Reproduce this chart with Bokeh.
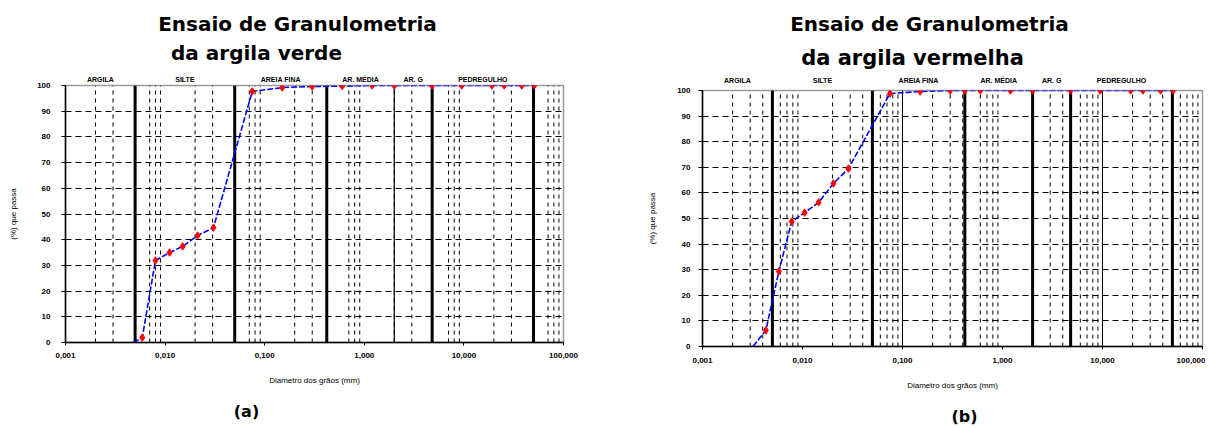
import math
from bokeh.plotting import figure
from bokeh.models import FixedTicker, Range1d, LogAxis
from bokeh.layouts import row, column
from bokeh.embed import file_html
from bokeh.resources import INLINE

# ---------------- data ----------------
titulo = "Ensaio de Granulometria"
subtitulo_a = "da argila verde"
subtitulo_b = "da argila vermelha"
letra_a = "(a)"
letra_b = "(b)"
eixo_x = "Diametro dos grãos (mm)"
eixo_y = "(%) que passa"

x_ticks = [0.001, 0.01, 0.1, 1, 10, 100]
x_tick_labels = ["0,001", "0,010", "0,100", "1,000", "10,000", "100,000"]
y_ticks = [0, 10, 20, 30, 40, 50, 60, 70, 80, 90, 100]

classes = ["ARGILA", "SILTE", "AREIA FINA", "AR. MÉDIA", "AR. G", "PEDREGULHO"]
limites = [0.001, 0.005, 0.05, 0.42, 2.0, 4.8, 50]          # class boundaries (mm)
largura_limites_a = [3, 3, 3, 1.2, 3, 3]
largura_limites_b = [3, 3, 3, 3, 3, 3]
linhas_finas_b = [0.1, 10]

minor_mult_a = [2, 3, 7, 8, 9]
minor_mult_b = [2, 3, 4, 6, 7, 8, 9]

# argila verde
diam_a = [0.0059, 0.0080, 0.0111, 0.0150, 0.0212, 0.0306, 0.075, 0.15, 0.30,
          0.60, 1.2, 2.0, 4.8, 9.5, 19.1, 25.4, 38.1, 50.8]
pct_a = [1.9, 31.9, 35.0, 37.4, 41.6, 44.7, 97.7, 99.2, 99.6,
         99.8, 100, 100, 100, 100, 100, 100, 100, 100]
inicio_a = (0.0048, 0.0)

# argila vermelha
diam_b = [0.0043, 0.0058, 0.0078, 0.0105, 0.0145, 0.0204, 0.0288, 0.075, 0.15,
          0.30, 0.42, 0.60, 1.2, 2.0, 4.8, 9.5, 19.1, 25.4, 38.1, 50.8]
pct_b = [6.3, 29.3, 48.8, 52.3, 56.3, 63.7, 69.5, 98.8, 99.6,
         100, 100, 100, 100, 100, 100, 100, 100, 100, 100, 100]
inicio_b = (0.0032, 0.0)

FONT = "Liberation Sans"
X0, X1 = 0.001, 100


def px_to_x(frac):
    """fraction of frame width -> data x on the log axis"""
    return 10 ** (math.log10(X0) + frac * (math.log10(X1) - math.log10(X0)))


def text_axis(p, side, xval, text, size, style, standoff, font="DejaVu Sans"):
    ax = LogAxis(ticker=FixedTicker(ticks=[xval]),
                 major_label_overrides={xval: text})
    ax.axis_line_color = None
    ax.major_tick_line_color = None
    ax.minor_tick_line_color = None
    ax.major_tick_out = 0
    ax.major_tick_in = 0
    ax.major_label_standoff = standoff
    ax.major_label_text_font = font
    ax.major_label_text_font_size = size
    ax.major_label_text_font_style = style
    ax.major_label_text_color = "black"
    p.add_layout(ax, side)
    return ax


def make_chart(diam, pct, inicio, subtitulo, letra, larg_lim, minor_mult, finas,
               bl, br, bt, bb, fh, fw, cfg):
    p = figure(x_axis_type="log", x_range=Range1d(X0, X1), y_range=Range1d(0, 100),
               frame_width=fw, frame_height=fh, output_backend="svg",
               toolbar_location=None, min_border_left=bl, min_border_right=br,
               min_border_top=bt, min_border_bottom=bb)
    p.background_fill_color = "white"
    p.border_fill_color = "white"
    p.outline_line_color = "#9a9a9a"
    p.outline_line_width = 1.5

    p.xgrid.visible = False
    p.ygrid.ticker = FixedTicker(ticks=y_ticks[1:-1])
    p.ygrid.grid_line_color = "black"
    p.ygrid.grid_line_dash = "6 4"
    p.ygrid.grid_line_width = 1

    mx = [dec * m for dec in x_ticks[:-1] for m in minor_mult]
    p.segment(x0=mx, y0=[0] * len(mx), x1=mx, y1=[100] * len(mx),
              line_color="black", line_dash="4 4", line_width=1)
    if finas:
        p.segment(x0=finas, y0=[0] * len(finas), x1=finas, y1=[100] * len(finas),
                  line_color="black", line_width=1)
    b = limites[1:]
    p.segment(x0=b, y0=[0] * len(b), x1=b, y1=[100] * len(b),
              line_color="black", line_width=larg_lim)

    lx = [inicio[0]] + diam
    ly = [inicio[1]] + pct
    p.line(lx, ly, line_color="#0000ff", line_width=1.6, line_dash="6 2")
    p.scatter(diam, pct, marker="diamond", size=7.5, fill_color="#ff0000",
              line_color="#ff0000")

    p.xaxis.ticker = FixedTicker(ticks=x_ticks)
    p.xaxis.major_label_overrides = {t: l for t, l in zip(x_ticks, x_tick_labels)}
    p.xaxis.minor_tick_line_color = None
    p.xaxis.major_tick_in = 0
    p.xaxis.major_tick_out = 3
    p.xaxis.major_label_standoff = cfg["xstand"]
    p.xaxis.axis_label = eixo_x
    p.xaxis.axis_label_standoff = 15
    p.yaxis.ticker = FixedTicker(ticks=y_ticks)
    p.yaxis.minor_tick_line_color = None
    p.yaxis.major_tick_in = 0
    p.yaxis.major_tick_out = 4
    p.yaxis.major_label_standoff = cfg["ystand"]
    p.yaxis.axis_label = eixo_y
    p.yaxis.axis_label_standoff = cfg["ylabstand"]
    for ax in (p.xaxis, p.yaxis):
        ax.axis_line_color = "black"
        ax.axis_line_width = 1.5
        ax.major_tick_line_color = "black"
        ax.major_label_text_font = FONT
        ax.major_label_text_font_size = "8px"
        ax.major_label_text_font_style = "bold"
        ax.major_label_text_color = "black"
        ax.axis_label_text_font = FONT
        ax.axis_label_text_font_size = "8px"
        ax.axis_label_text_font_style = "normal"
        ax.axis_label_text_color = "black"

    # class names (axis above, ticks at class centres)
    centros = [(limites[i] * limites[i + 1]) ** 0.5 for i in range(len(classes))]
    cax = LogAxis(ticker=FixedTicker(ticks=centros),
                  major_label_overrides={c: n for c, n in zip(centros, classes)})
    cax.axis_line_color = None
    cax.major_tick_line_color = None
    cax.minor_tick_line_color = None
    cax.major_tick_out = 0
    cax.major_tick_in = 0
    cax.major_label_standoff = cfg["cstand"]
    cax.major_label_text_font = FONT
    cax.major_label_text_font_size = "7px"
    cax.major_label_text_font_style = "bold"
    cax.major_label_text_color = "black"
    p.add_layout(cax, "above")

    # subtitle, then title, stacked outward
    text_axis(p, "above", px_to_x(cfg["sub_frac"]), subtitulo, cfg["sub_size"], "bold",
              cfg["sub_stand"])
    text_axis(p, "above", px_to_x(cfg["tit_frac"]), titulo, "20px", "bold",
              cfg["tit_stand"])
    # panel letter below
    text_axis(p, "below", px_to_x(cfg["let_frac"]), letra, cfg["let_size"], "bold",
              cfg["let_stand"])
    return p


cfg_a = dict(xstand=7, ystand=11, ylabstand=16, cstand=3,
             sub_frac=(256 - 65) / 498, sub_size="20px", sub_stand=8,
             tit_frac=(297 - 65) / 498, tit_stand=2,
             let_frac=(246 - 65) / 498, let_size="16px", let_stand=14)
cfg_b = dict(xstand=8, ystand=8, ylabstand=17, cstand=7,
             sub_frac=(912 - 702) / 500, sub_size="21px", sub_stand=4,
             tit_frac=(929 - 702) / 500, tit_stand=7,
             let_frac=(964 - 702) / 500, let_size="16px", let_stand=14)

pa = make_chart(diam_a, pct_a, inicio_a, subtitulo_a, letra_a, largura_limites_a,
                minor_mult_a, None, 65, 65, 85, 82, 257, 498, cfg_a)
pb = make_chart(diam_b, pct_b, inicio_b, subtitulo_b, letra_b, largura_limites_b,
                minor_mult_b, linhas_finas_b, 74, 3, 90, 79, 256, 500, cfg_b)

layout = row(column(pa), column(pb), spacing=0)
open("out.html", "w").write(file_html(layout, INLINE))
